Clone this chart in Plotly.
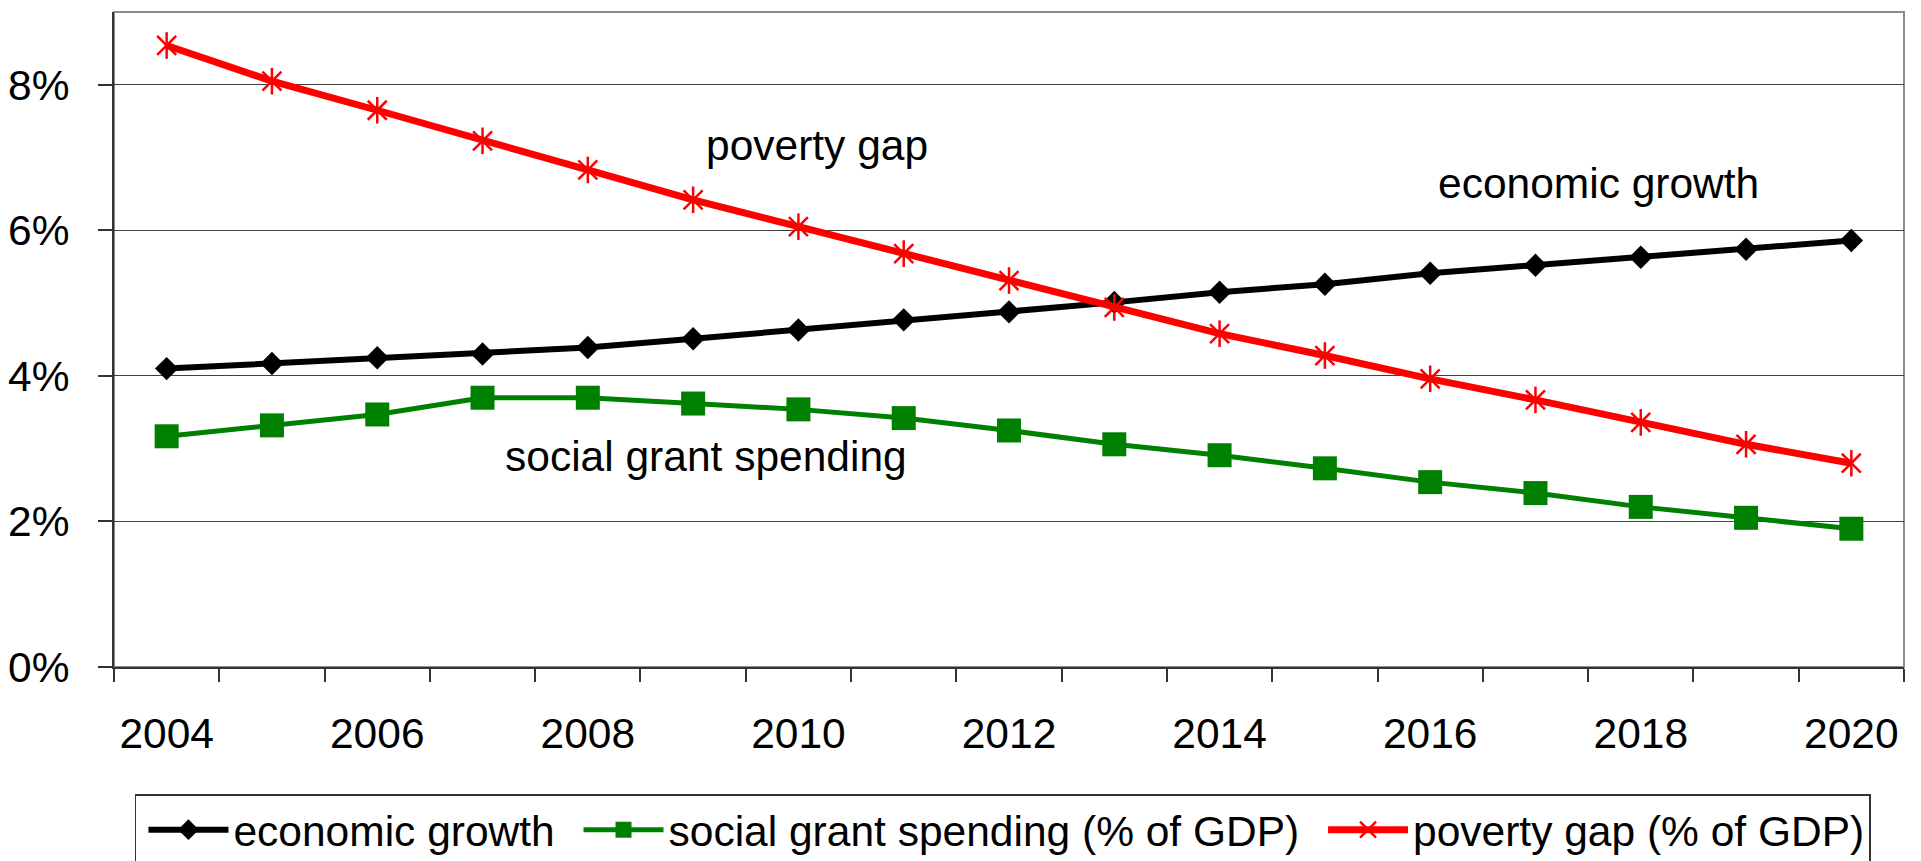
import plotly.graph_objects as go

# Years on the horizontal axis
years = list(range(2004, 2021))

# Series values, in percent
economic_growth = [4.10, 4.17, 4.25, 4.30, 4.39, 4.51, 4.63, 4.77, 4.88,
                   5.01, 5.15, 5.26, 5.41, 5.52, 5.63, 5.74, 5.86]
social_grant_spending = [3.17, 3.32, 3.47, 3.70, 3.70, 3.62, 3.54, 3.42, 3.25,
                         3.06, 2.91, 2.73, 2.54, 2.39, 2.20, 2.05, 1.90]
poverty_gap = [8.54, 8.05, 7.65, 7.23, 6.83, 6.42, 6.05, 5.68, 5.31,
               4.94, 4.58, 4.28, 3.96, 3.67, 3.36, 3.06, 2.80]

# Axis ticks
x_tick_years = list(range(2004, 2021, 2))
y_tick_values = [0, 2, 4, 6, 8]
y_tick_labels = ["0%", "2%", "4%", "6%", "8%"]

FONT = "Liberation Sans, Arial, sans-serif"
FS = 42.5
NBSP = "\u00a0"  # trailing space widens the gap between legend entries

fig = go.Figure()

fig.add_trace(go.Scatter(
    x=years, y=economic_growth, name="economic growth" + NBSP,
    mode="lines+markers",
    line=dict(color="black", width=6),
    marker=dict(symbol="diamond", size=18, color="black"),
))
fig.add_trace(go.Scatter(
    x=years, y=social_grant_spending,
    name="social grant spending (% of GDP)" + NBSP,
    mode="lines+markers",
    line=dict(color="#008000", width=5),
    marker=dict(symbol="square", size=24, color="#008000"),
))
fig.add_trace(go.Scatter(
    x=years, y=poverty_gap, name="poverty gap (% of GDP)",
    mode="lines+markers",
    line=dict(color="#ff0000", width=7),
    marker=dict(symbol="x-thin-open", size=19, color="#ff0000",
                line=dict(color="#ff0000", width=2.5)),
))
# vertical stroke completing the six-armed asterisk markers
fig.add_trace(go.Scatter(
    x=years, y=poverty_gap, mode="markers", showlegend=False,
    hoverinfo="skip",
    marker=dict(symbol="line-ns-open", size=19, color="#ff0000",
                line=dict(color="#ff0000", width=2.5)),
))

# In-plot series labels
fig.add_annotation(x=2010.18, y=7.16, text="poverty gap", showarrow=False,
                   font=dict(family=FONT, size=FS, color="black"))
fig.add_annotation(x=2017.6, y=6.65, text="economic growth", showarrow=False,
                   font=dict(family=FONT, size=FS, color="black"))
fig.add_annotation(x=2009.12, y=2.89, text="social grant spending", showarrow=False,
                   font=dict(family=FONT, size=FS, color="black"))

# Gray frame around the plotting area
fig.add_shape(type="rect", xref="paper", yref="paper", x0=0, y0=0, x1=1, y1=1,
              line=dict(color="#8c8c8c", width=2), layer="below")

fig.update_layout(
    width=1921, height=861,
    margin=dict(l=114, r=17, t=12, b=194, autoexpand=False),
    paper_bgcolor="white", plot_bgcolor="white",
    font=dict(family=FONT, size=FS, color="black"),
    showlegend=True,
    legend=dict(
        orientation="h", x=0.0117, y=-0.1939, xanchor="left", yanchor="top",
        bordercolor="#333333", borderwidth=1.5, bgcolor="white",
        font=dict(family=FONT, size=FS, color="black"),
        itemwidth=80, indentation=7,
    ),
    xaxis=dict(
        range=[2003.5, 2020.5],
        tickmode="array", tickvals=x_tick_years,
        ticks="", ticklabelstandoff=28,
        showgrid=False, zeroline=False,
        showline=True, linecolor="#333333", linewidth=2,
        minor=dict(ticks="outside", tick0=2003.5, dtick=1, ticklen=13,
                   tickcolor="#333333", tickwidth=1.5, showgrid=False),
        tickfont=dict(family=FONT, size=FS, color="black"),
    ),
    yaxis=dict(
        range=[0, 9],
        tickmode="array", tickvals=y_tick_values, ticktext=y_tick_labels,
        ticks="outside", ticklen=14, tickcolor="#333333", tickwidth=1.5,
        ticklabelstandoff=20,
        showgrid=True, gridcolor="#404040", gridwidth=1,
        zeroline=False,
        showline=True, linecolor="#333333", linewidth=2,
        tickfont=dict(family=FONT, size=FS, color="black"),
    ),
)

fig.write_html("out.html")
